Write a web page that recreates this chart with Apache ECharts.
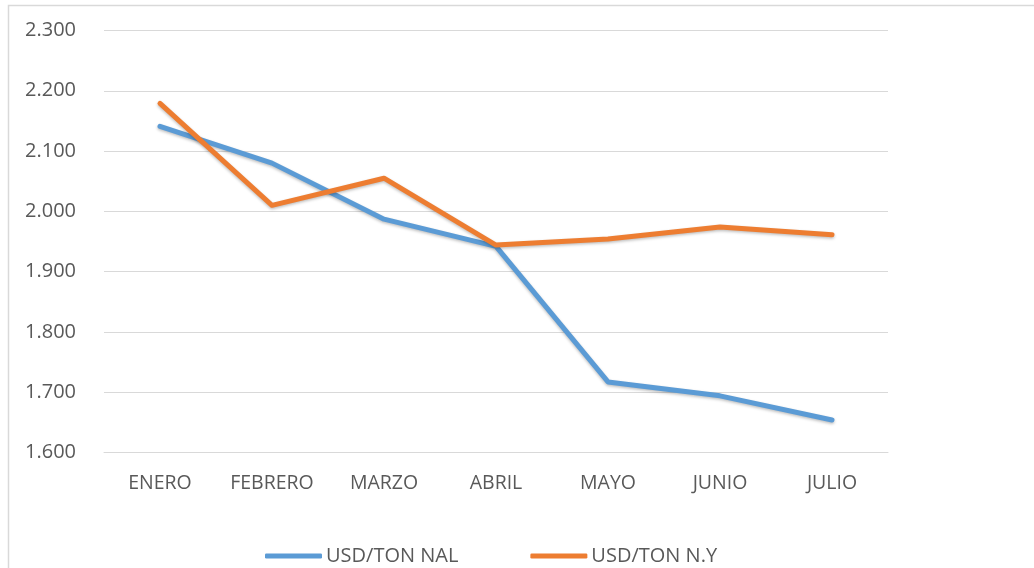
<!DOCTYPE html>
<html>
<head>
<meta charset="utf-8">
<script src="https://cdn.jsdelivr.net/npm/echarts@6/dist/echarts.min.js"></script>
<style>
  html, body { margin: 0; padding: 0; background: #fff; }
  #chart { width: 1034px; height: 568px; }
</style>
</head>
<body>
<div id="chart"></div>
<script>
const months = ['ENERO', 'FEBRERO', 'MARZO', 'ABRIL', 'MAYO', 'JUNIO', 'JULIO']
const usdTonNal = [2141, 2080, 1987, 1942, 1717, 1694, 1654]
const usdTonNy = [2179, 2010, 2055, 1944, 1954, 1974, 1961]
const yMin = 1600
const yMax = 2300
const yStep = 100

const font = '"Open Sans", "Noto Sans", sans-serif'
const chart = echarts.init(document.getElementById('chart'))

chart.setOption({
  backgroundColor: '#fff',
  animation: false,
  graphic: [{
    type: 'rect',
    shape: { x: 8.5, y: 5.5, width: 1040, height: 580 },
    style: { fill: 'none', stroke: '#d9d9d9', lineWidth: 1.5 },
    silent: true
  }],
  grid: { left: 104, right: 146, top: 30.5, bottom: 115.5 },
  xAxis: {
    type: 'category',
    data: months,
    boundaryGap: true,
    axisLine: { show: true, lineStyle: { color: '#d9d9d9', width: 1 } },
    axisTick: { show: false },
    axisLabel: { color: '#595959', fontSize: 19.5, fontFamily: font, margin: 21 }
  },
  yAxis: {
    type: 'value',
    min: yMin,
    max: yMax,
    interval: yStep,
    axisLine: { show: false },
    axisTick: { show: false },
    splitLine: { lineStyle: { color: '#d9d9d9', width: 1 } },
    axisLabel: {
      color: '#595959', fontSize: 20, fontFamily: font, margin: 28,
      formatter: v => (v / 1000).toFixed(3)
    }
  },
  legend: {
    left: 260,
    top: 541,
    itemWidth: 57,
    itemHeight: 5,
    itemGap: 72,
    icon: 'roundRect',
    textStyle: { color: '#595959', fontSize: 20, fontFamily: font, padding: [0, 0, 0, -1] },
    data: ['USD/TON NAL', 'USD/TON N.Y']
  },
  series: [
    {
      name: 'USD/TON NAL',
      type: 'line',
      data: usdTonNal,
      showSymbol: false,
      symbol: 'none',
      color: '#5B9BD5',
      lineStyle: { color: '#5B9BD5', width: 5, cap: 'round', join: 'round',
        shadowColor: 'rgba(0,0,0,0.25)', shadowBlur: 3, shadowOffsetY: 1.5 }
    },
    {
      name: 'USD/TON N.Y',
      type: 'line',
      data: usdTonNy,
      showSymbol: false,
      symbol: 'none',
      color: '#ED7D31',
      lineStyle: { color: '#ED7D31', width: 5, cap: 'round', join: 'round',
        shadowColor: 'rgba(0,0,0,0.25)', shadowBlur: 3, shadowOffsetY: 1.5 }
    }
  ]
})

window.addEventListener('resize', () => {
  chart.resize()
})
</script>
</body>
</html>
